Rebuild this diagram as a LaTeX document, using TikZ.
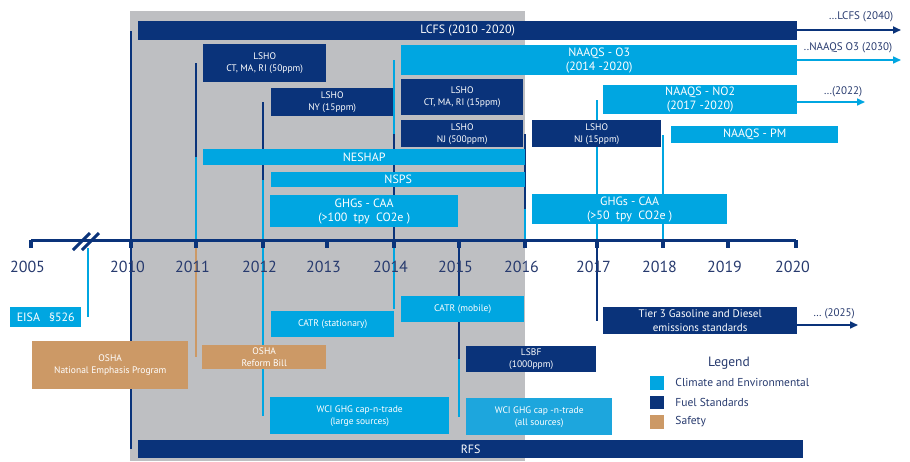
\documentclass[tikz,border=0pt]{standalone}
\usepackage{fontspec}
\setmainfont{PT Sans}
\usetikzlibrary{calc,positioning,arrows.meta,backgrounds}
\definecolor{fuel}{HTML}{0A337A}
\definecolor{climate}{HTML}{00A6E1}
\definecolor{climatetwo}{HTML}{1DA6DD}
\definecolor{safety}{HTML}{CC9966}
\definecolor{bggray}{HTML}{BEBFC2}
\definecolor{textnavy}{HTML}{273A6E}
\newcommand{\eventbox}[7]{%
  \node[#2, minimum width=#5-#3, minimum height=#6-#4, anchor=north west] (#1) at (#3,#4) {#7}}
\newcommand{\eventline}[3]{%
  \draw[#1] (#2) -- (#2 |- #3.center)}
\newcommand{\laterarrow}[3]{%
  \draw[#1, -{Triangle[length=8pt,width=7pt]}] (#3 -| #2.east) -- (#3)}

\begin{document}
\begin{tikzpicture}[x=1pt, y=-1pt,
    box/.style={inner sep=0pt, align=center, text=white,
      font=\fontsize{12}{14}\selectfont},
    fuelbox/.style={box, fill=fuel},
    climbox/.style={box, fill=climate},
    climboxtwo/.style={box, fill=climatetwo},
    safebox/.style={box, fill=safety},
    smalltext/.style={font=\fontsize{9.5}{12}\selectfont},
    midtext/.style={font=\fontsize{11}{14}\selectfont},
    fuelline/.style={draw=fuel, line width=1.1pt},
    climline/.style={draw=climate, line width=1.1pt},
    safeline/.style={draw=safety, line width=1.1pt},
    yearlabel/.style={text=textnavy, font=\fontsize{16}{16}\selectfont},
    note/.style={text=textnavy, font=\fontsize{11}{12}\selectfont},
    swatch/.style={minimum size=13.5pt, inner sep=0pt},
    legendtext/.style={text=textnavy, font=\fontsize{11.5}{13}\selectfont}]
  \useasboundingbox (0,0) rectangle (910,461);

  % above the time line
  \eventbox{lcfs}{fuelbox}{138}{21}{797}{40}{LCFS (2010 -2020)};
  \eventbox{lsho50}{fuelbox,smalltext}{203}{44}{326}{82}{LSHO\\CT, MA, RI (50ppm)};
  \eventbox{ozone}{climbox}{401}{45}{797}{75}{NAAQS - O3\\(2014 -2020)};
  \eventbox{lshony}{fuelbox,smalltext}{271}{88}{393}{116}{LSHO\\NY (15ppm)};
  \eventbox{lsho15}{fuelbox,smalltext}{401}{79}{523}{115}{LSHO\\CT, MA, RI (15ppm)};
  \eventbox{lshonj500}{fuelbox,smalltext}{401}{120}{523}{147}{LSHO\\NJ (500ppm)};
  \eventbox{notwo}{climbox}{603}{85}{797}{114}{NAAQS - NO2\\(2017 -2020)};
  \eventbox{lshonj15}{fuelbox,smalltext}{532}{120}{661}{147}{LSHO\\NJ (15ppm)};
  \eventbox{pm}{climbox}{671}{126}{838}{143}{NAAQS - PM};
  \eventbox{neshap}{climbox}{203}{149}{525}{165}{NESHAP};
  \eventbox{nsps}{climbox}{271}{172}{525}{187}{NSPS};
  \eventbox{ghg100}{climbox}{270}{195}{458}{227}{GHGs - CAA\\(>100~ tpy~ CO2e )};
  \eventbox{ghg50}{climbox}{532}{194}{727}{224}{GHGs - CAA\\(>50~ tpy~ CO2e )};

  % below the time line
  \eventbox{eisa}{climbox,font=\fontsize{12}{14}\selectfont}{10}{307}{81}{327}{EISA\hspace{9pt}§526};
  \eventbox{oshanep}{safebox,smalltext}{32}{341}{188}{389}{OSHA\\National Emphasis Program};
  \eventbox{oshareform}{safebox,smalltext}{202}{345}{326}{369}{OSHA\\Reform Bill};
  \eventbox{catrstat}{climbox,smalltext}{271}{311}{394}{337}{CATR (stationary)};
  \eventbox{catrmob}{climbox,smalltext}{401}{296}{524}{322}{CATR (mobile)};
  \eventbox{wcilarge}{climbox,smalltext}{270}{397}{449}{434}{WCI GHG cap-n-trade\\(large sources)};
  \eventbox{lsbf}{fuelbox,smalltext}{466}{346}{596}{372}{LSBF\\(1000ppm)};
  \eventbox{wciall}{climboxtwo,smalltext}{466}{398}{612}{435}{WCI GHG cap -n-trade\\(all sources)};
  \eventbox{tierthree}{fuelbox,midtext}{603}{307}{797}{334}{Tier 3 Gasoline and Diesel\\emissions standards};
  \eventbox{rfs}{fuelbox}{138}{440}{803}{458}{RFS};

  \foreach \yr/\xx in {2005/31, 2010/131, 2011/196, 2012/263, 2013/327, 2014/394,
      2015/459, 2016/525, 2017/597, 2018/663, 2019/728, 2020/796}{
    \coordinate (t\yr) at (\xx,240);
    \node[yearlabel] (l\yr) at (\xx-3.5,267) {\yr};
  }
  \coordinate (brk) at (88,248);

  \begin{scope}[on background layer]
    \fill[bggray] (130,11) rectangle (525,461);
    \eventline{fuelline}{t2010}{lcfs};
    \eventline{fuelline}{t2010}{rfs};
    \eventline{fuelline}{t2011}{lsho50};
    \eventline{climline}{t2011}{neshap};
    \eventline{safeline}{t2011}{oshareform};
    \eventline{fuelline}{t2012}{lshony};
    \eventline{climline}{t2012}{nsps};
    \eventline{climline}{t2012}{wcilarge};
    \eventline{climline}{t2014}{ozone};
    \eventline{fuelline}{t2014}{lshonj500};
    \eventline{climline}{t2014}{catrmob};
    \eventline{climline}{t2015}{wciall};
    \eventline{fuelline}{t2015}{lsbf};
    \eventline{fuelline}{t2016}{lshonj15};
    \eventline{climline}{t2016}{ghg50};
    \eventline{climline}{t2017}{notwo};
    \eventline{fuelline}{t2017}{tierthree};
    \eventline{climline}{t2018}{pm};
    \eventline{climline}{brk}{eisa};
  \end{scope}

  % time line
  \draw[fuel, line width=3pt] (t2005) -- (t2020);
  \foreach \yr in {2005,2010,2011,...,2020}
    \draw[fuel, line width=3.5pt] (t\yr) -- ++(0,8);
  \draw[fuel, line width=3pt] (73,250) -- (90,233) (82,250) -- (99,233);

  % later dates
  \coordinate (lcfsend) at (901,30);
  \coordinate (ozoneend) at (901,60);
  \coordinate (notwoend) at (865,102);
  \coordinate (tierend) at (858,325);
  \laterarrow{fuel, line width=2pt}{lcfs}{lcfsend};
  \laterarrow{climate, line width=1.6pt}{ozone}{ozoneend};
  \laterarrow{climate, line width=1.6pt}{notwo}{notwoend};
  \laterarrow{fuel, line width=1.6pt}{tierthree}{tierend};
  \node[note] (lcfsnote) at (861,17) {…LCFS (2040)};
  \node[note] (ozonenote) at (848,48) {..NAAQS O3 (2030)};
  \node[note] (notwonote) at (843,92) {…(2022)};
  \node[note] (tiernote) at (834,314) {… (2025)};

  % legend
  \node[legendtext, font=\fontsize{13.5}{14}\selectfont] (legend) at (729,363) {Legend};
  \node[swatch, fill=climate, anchor=north west] (swclim) at (650,376) {};
  \node[swatch, fill=fuel, below=5.5pt of swclim] (swfuel) {};
  \node[swatch, fill=safety, below=5.5pt of swfuel] (swsafe) {};
  \node[legendtext, right=8pt of swclim] (lgclim) {Climate and Environmental};
  \node[legendtext, right=8pt of swfuel] (lgfuel) {Fuel Standards};
  \node[legendtext, right=8pt of swsafe] (lgsafe) {Safety};
\end{tikzpicture}
\end{document}
